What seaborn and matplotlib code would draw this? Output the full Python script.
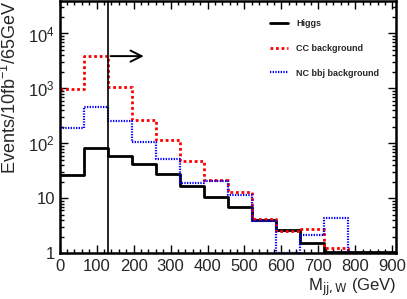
import numpy as np
import pandas as pd
import matplotlib
matplotlib.use("Agg")
import matplotlib.pyplot as plt
import seaborn as sns
from matplotlib.ticker import FixedLocator, MultipleLocator, LogLocator, FuncFormatter

# bins of 65 GeV from 0 to 910
bin_width = 65
bin_centers = np.arange(32.5, 910, 65)

higgs = [27, 84, 59, 42, 28, 17, 10.7, 7.0, 4.0, 2.65, 1.56, 1.04, 1.04, 1.04]
cc_bkg = [990, 3870, 1050, 262, 116, 48, 21.8, 12.9, 4.2, 2.5, 2.73, 1.23, 0, 0]
nc_bbj = [189, 463, 252, 105, 51, 19.3, 21, 11.6, 3.87, 1.0, 2.15, 4.33, 0, 0]

labels = ["Higgs", "CC background", "NC bbj background"]
cut_value = 130

df = pd.DataFrame({"mass": bin_centers, "higgs": higgs, "cc": cc_bkg, "nc": nc_bbj})

sns.set_style("white")
plt.rcParams["font.family"] = ["Liberation Sans", "DejaVu Sans"]
plt.rcParams["mathtext.default"] = "regular"

fig = plt.figure(figsize=(4.07, 2.99), dpi=100)
ax = fig.add_axes([0.1467, 0.153, 0.8263, 0.8437])

styles = [
    ("higgs", dict(color="black", linewidth=2.0)),
    ("cc", dict(color="red", linewidth=2.0, linestyle=(0, (1, 1)))),
    ("nc", dict(color="blue", linewidth=1.6, linestyle=(0, (0.6, 0.6)))),
]
handles = []
for col, kw in styles:
    sns.histplot(data=df, x="mass", weights=col, binwidth=bin_width, binrange=(0, 910),
                 element="step", fill=False, ax=ax, **kw)
    handles.append(ax.lines[-1])

ax.set_yscale("log")
ax.set_xlim(0, 910)
ax.set_ylim(1, 3.9e4)

# cut line and arrow
ax.axvline(cut_value, color="black", linewidth=1.2)
ax.annotate("", xy=(235, cc_bkg[1]), xytext=(cut_value, cc_bkg[1]),
            arrowprops=dict(arrowstyle="->", color="black", lw=1.4, mutation_scale=20))

ax.xaxis.set_major_locator(MultipleLocator(100))
ax.xaxis.set_minor_locator(MultipleLocator(20))
ax.yaxis.set_major_locator(FixedLocator([1, 10, 100, 1000, 10000]))
ax.yaxis.set_minor_locator(LogLocator(base=10, subs=np.arange(2, 10), numticks=20))

def yfmt(v, pos):
    if v == 1:
        return "1"
    if v == 10:
        return "10"
    return r"$10^{%d}$" % int(round(np.log10(v)))

ax.yaxis.set_major_formatter(FuncFormatter(yfmt))

ax.tick_params(which="both", direction="in", bottom=True, left=True, top=True, right=True,
               labelsize=12, width=1.0, color="black")
ax.tick_params(which="major", length=6)
ax.tick_params(which="minor", length=3)
ax.tick_params(axis="x", pad=4)
for s in ax.spines.values():
    s.set_linewidth(1.8)
    s.set_color("black")

ax.set_xlabel(r"M$_{\mathrm{jj,W}}$ (GeV)", fontsize=12, loc="right", labelpad=2)
ax.set_ylabel(r"Events/10fb$^{-1}$/65GeV", fontsize=13, loc="top")
ax.yaxis.set_label_coords(-0.118, 1.0)

ax.legend(handles, labels, loc="upper left", bbox_to_anchor=(270 / 407, 1 - 19 / 299),
          bbox_transform=fig.transFigure, frameon=False, borderpad=0, borderaxespad=0,
          handlelength=2.0, handletextpad=0.9, labelspacing=1.75,
          prop={"weight": "bold", "size": 6.5})

fig.savefig("out.png", dpi=100)
